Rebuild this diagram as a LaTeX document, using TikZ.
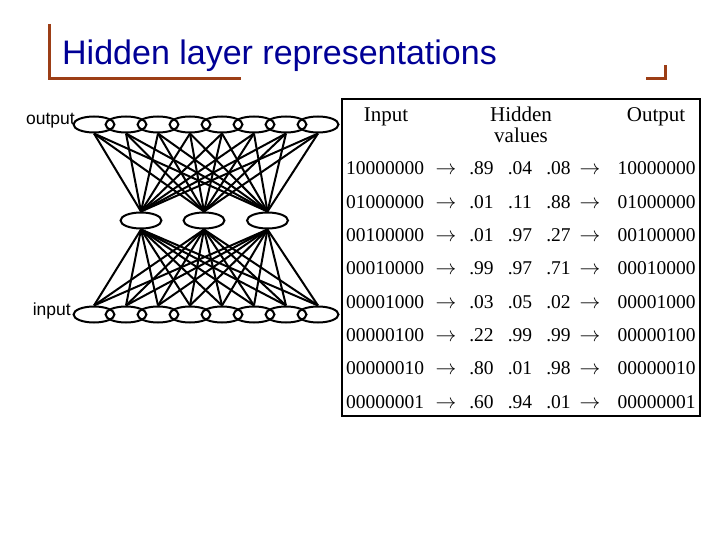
\documentclass[tikz,border=0pt]{standalone}
\usepackage{fontspec}
\setmainfont{Liberation Serif}
\setsansfont{Liberation Sans}
\usetikzlibrary{positioning,shapes.geometric}

\definecolor{titleblue}{RGB}{0,0,150}
\definecolor{framebrown}{RGB}{156,62,22}

\begin{document}
\begin{tikzpicture}[
  x=1pt,y=-1pt,
  unit/.style={ellipse,draw,line width=2pt,minimum width=41pt,minimum height=16pt,inner sep=0pt},
  wire/.style={line width=2pt},
  frame/.style={line width=3pt,framebrown},
  lbl/.style={font=\fontsize{17.5}{20}\selectfont\sffamily,inner sep=0pt},
  head/.style={font=\fontsize{21}{21}\selectfont,inner sep=0pt,anchor=base},
  cell/.style={font=\fontsize{19.5}{22}\selectfont,inner sep=0pt,anchor=base},
]
\useasboundingbox (0,0) rectangle (720,540);

% Title and corner marks
\draw[frame] (49,24) |- (241,79);
\draw[frame] (646,79) -| (665,65);
\node[font=\fontsize{34}{34}\selectfont\sffamily,text=titleblue,anchor=base west,inner sep=0pt] (title) at (62,65) {Hidden layer representations};

% Network units
\foreach \i in {0,...,7} {
  \node[unit] (out\i) at (94+32*\i,124.5) {};
  \node[unit] (in\i) at (94+32*\i,314.5) {};
}
\foreach \j/\xx in {0/141,1/204,2/267.5} {
  \node[unit] (hid\j) at (\xx,220.5) {};
}

% Connections
\foreach \i in {0,...,7} {
  \foreach \j in {0,1,2} {
    \draw[wire] (out\i.south) -- (hid\j.north);
    \draw[wire] (hid\j.south) -- (in\i.north);
  }
}

% Layer labels
\node[lbl,anchor=base east] (outlbl) at (75,125) {output};
\node[lbl,anchor=base east] (inlbl) at (71,315) {input};

% Table
\node[draw,line width=2pt,minimum width=358pt,minimum height=317pt,anchor=north west,inner sep=0pt] (tbl) at (341,98) {};
\node[head] (hin) at (386,122) {Input};
\node[head] (hhid) at (521,122) {Hidden};
\node[head] (hval) at (521,143) {values};
\node[head] (hout) at (656,122) {Output};

\foreach \inp/\a/\b/\c [count=\r] in {
  10000000/.89/.04/.08,
  01000000/.01/.11/.88,
  00100000/.01/.97/.27,
  00010000/.99/.97/.71,
  00001000/.03/.05/.02,
  00000100/.22/.99/.99,
  00000010/.80/.01/.98,
  00000001/.60/.94/.01} {
  \pgfmathsetmacro\yy{175+33.3*(\r-1)}
  \node[cell] (vin\r) at (385,\yy) {\inp};
  \node[cell] (ra\r) at (446,\yy) {$\rightarrow$};
  \node[cell] (ha\r) at (481.5,\yy) {\a};
  \node[cell] (hb\r) at (520,\yy) {\b};
  \node[cell] (hc\r) at (558.5,\yy) {\c};
  \node[cell] (rb\r) at (590,\yy) {$\rightarrow$};
  \node[cell] (vout\r) at (656.5,\yy) {\inp};
}

\end{tikzpicture}
\end{document}
